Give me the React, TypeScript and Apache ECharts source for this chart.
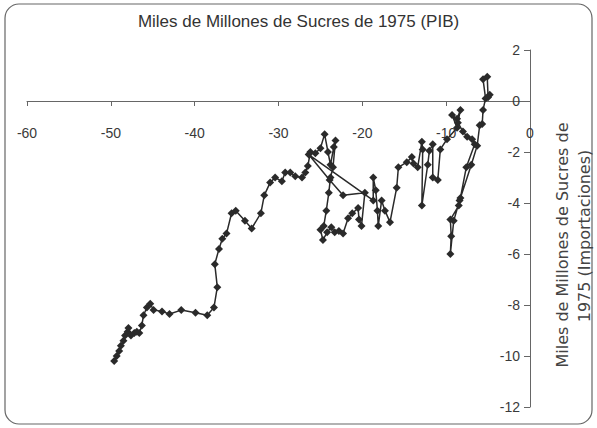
import React, { useEffect, useRef } from "react";
import * as echarts from "echarts";

const titleText = "Miles de Millones de Sucres de 1975 (PIB)";
const yAxisTitleLine1 = "Miles de Millones de Sucres de";
const yAxisTitleLine2 = "1975 (Importaciones)";

// PIB (x) values, in order
const pibValues: number[] = [
  -49.6, -49.3, -49.0, -48.8, -48.5, -48.3, -48.0, -47.9, -47.6, -47.2, -46.9, -46.6, -46.3, -46.1, -45.7, -45.3, -44.9, -43.9, -43.0, -41.6, -39.9, -38.5, -37.7, -37.3, -37.6, -37.1, -36.7, -36.2, -35.6, -35.1, -34.0, -33.2, -32.1, -31.7, -31.0, -30.4, -29.6, -29.2, -28.6, -28.0, -27.2, -26.8, -26.5,
  -26.2, -25.6, -25.0, -24.5, -24.1, -23.8, -23.4, -23.2, -23.5, -23.8, -24.0, -24.3, -24.6, -25.0, -24.7, -24.2, -23.7, -23.3, -22.8, -22.3, -21.7, -21.2, -20.5, -20.4, -20.1, -19.7, -22.3, -23.9, -26.4, -18.7,
  -18.7, -18.4, -18.2, -18.1, -17.7, -17.3, -16.7, -15.9, -15.7, -14.7, -14.1, -13.9, -13.4, -12.9, -12.8, -12.9, -12.2, -12.0, -11.6, -11.6, -11.0, -10.7, -9.9, -8.7,
  -9.3, -8.7, -8.3, -8.6, -8.0, -7.5, -6.9, -6.6, -7.6, -8.3, -8.5, -9.5, -9.4, -9.5, -9.1, -8.4, -7.0, -6.3, -6.0, -5.7, -5.6, -5.3, -5.6, -5.1, -5.0, -4.8,
];

// Importaciones (y) values, same order
const impValues: number[] = [
  -10.2, -10.0, -9.8, -9.6, -9.4, -9.2, -9.05, -8.9, -9.2, -9.1, -9.05, -9.1, -8.8, -8.4, -8.1, -7.95, -8.2, -8.25, -8.35, -8.2, -8.3, -8.4, -8.1, -7.3, -6.4, -5.8, -5.4, -5.2, -4.4, -4.3, -4.7, -5.0, -4.4, -3.7, -3.2, -3.0, -3.15, -2.8, -2.8, -2.95, -3.0, -2.8, -2.55,
  -2.0, -2.05, -1.85, -1.3, -2.0, -2.5, -1.8, -1.55, -2.6, -3.0, -3.6, -4.3, -4.9, -5.05, -5.45, -5.15, -4.95, -5.15, -5.1, -5.2, -4.6, -4.4, -4.2, -4.65, -4.9, -3.6, -3.7, -3.1, -2.1, -3.9,
  -3.0, -3.5, -4.3, -4.9, -3.9, -4.3, -4.75, -3.4, -2.6, -2.4, -2.2, -2.45, -2.6, -1.6, -1.9, -4.1, -2.5, -1.95, -1.7, -3.0, -3.1, -1.9, -1.5, -1.05,
  -0.55, -0.7, -0.35, -0.85, -1.2, -1.4, -1.5, -1.7, -2.6, -3.8, -4.1, -4.65, -5.3, -6.0, -4.7, -3.9, -2.5, -1.75, -0.95, -0.9, -0.35, 0.1, 0.85, 0.95, 0.15, 0.25,
];

const xTicks = { min: -60, max: 0, interval: 10 };
const yTicks = { min: -12, max: 2, interval: 2 };

export default function App() {
  const ref = useRef<HTMLDivElement>(null);
  useEffect(() => {
    if (!ref.current) return;
    const chart = echarts.init(ref.current, null, { renderer: "svg" });
    const data = pibValues.map((x, i) => [x, impValues[i]]);
    const font = "'Liberation Sans', Arial, sans-serif";
    const gridTop = 50;
    const gridBottomPx = 407;
    // pixel of y = 0 inside the grid
    const zeroPx = gridTop + ((yTicks.max - 0) / (yTicks.max - yTicks.min)) * (gridBottomPx - gridTop);
    chart.setOption({
      animation: false,
      backgroundColor: "#ffffff",
      title: {
        text: titleText,
        left: "center",
        top: 8,
        textStyle: { fontFamily: font, fontSize: 17, fontWeight: "normal", color: "#333333" },
      },
      grid: { left: 27, right: 67, top: gridTop, bottom: 428 - gridBottomPx, containLabel: false, outerBoundsMode: "none" },
      xAxis: {
        type: "value",
        position: "top",
        offset: -(zeroPx - gridTop),
        min: xTicks.min,
        max: xTicks.max,
        interval: xTicks.interval,
        axisLine: { show: true, onZero: false, lineStyle: { color: "#666", width: 1 } },
        axisTick: { show: true, inside: true, length: 5, lineStyle: { color: "#666" } },
        axisLabel: { inside: true, margin: 25, fontFamily: font, fontSize: 14, color: "#3a3a3a" },
        splitLine: { show: false },
      },
      yAxis: {
        type: "value",
        position: "right",
        min: yTicks.min,
        max: yTicks.max,
        interval: yTicks.interval,
        axisLine: { show: true, onZero: false, lineStyle: { color: "#666", width: 1 } },
        axisTick: { show: true, inside: true, length: 6, lineStyle: { color: "#666" } },
        axisLabel: { inside: true, margin: 10, fontFamily: font, fontSize: 14, color: "#3a3a3a" },
        splitLine: { show: false },
      },
      series: [
        {
          type: "line",
          data,
          symbol: "diamond",
          symbolSize: 8,
          lineStyle: { color: "#2a2a2a", width: 1.5 },
          itemStyle: { color: "#2a2a2a" },
        },
      ],
      graphic: [
        {
          type: "rect",
          shape: { x: 5, y: 4, width: 587, height: 420, r: 14 },
          style: { fill: "none", stroke: "#666", lineWidth: 1.2 },
          silent: true,
        },
        {
          type: "text",
          x: 562,
          y: 245,
          rotation: Math.PI / 2,
          style: {
            text: yAxisTitleLine1,
            fontFamily: "'DejaVu Sans', sans-serif",
            fontSize: 16,
            fill: "#444444",
            align: "center",
            verticalAlign: "middle",
          },
        },
        {
          type: "text",
          x: 584,
          y: 236,
          rotation: Math.PI / 2,
          style: {
            text: yAxisTitleLine2,
            fontFamily: "'DejaVu Sans', sans-serif",
            fontSize: 16,
            fill: "#444444",
            align: "center",
            verticalAlign: "middle",
          },
        },
      ],
    });
    return () => chart.dispose();
  }, []);
  return <div ref={ref} style={{ position: "fixed", left: 0, top: 0, width: 597, height: 428 }} />;
}
